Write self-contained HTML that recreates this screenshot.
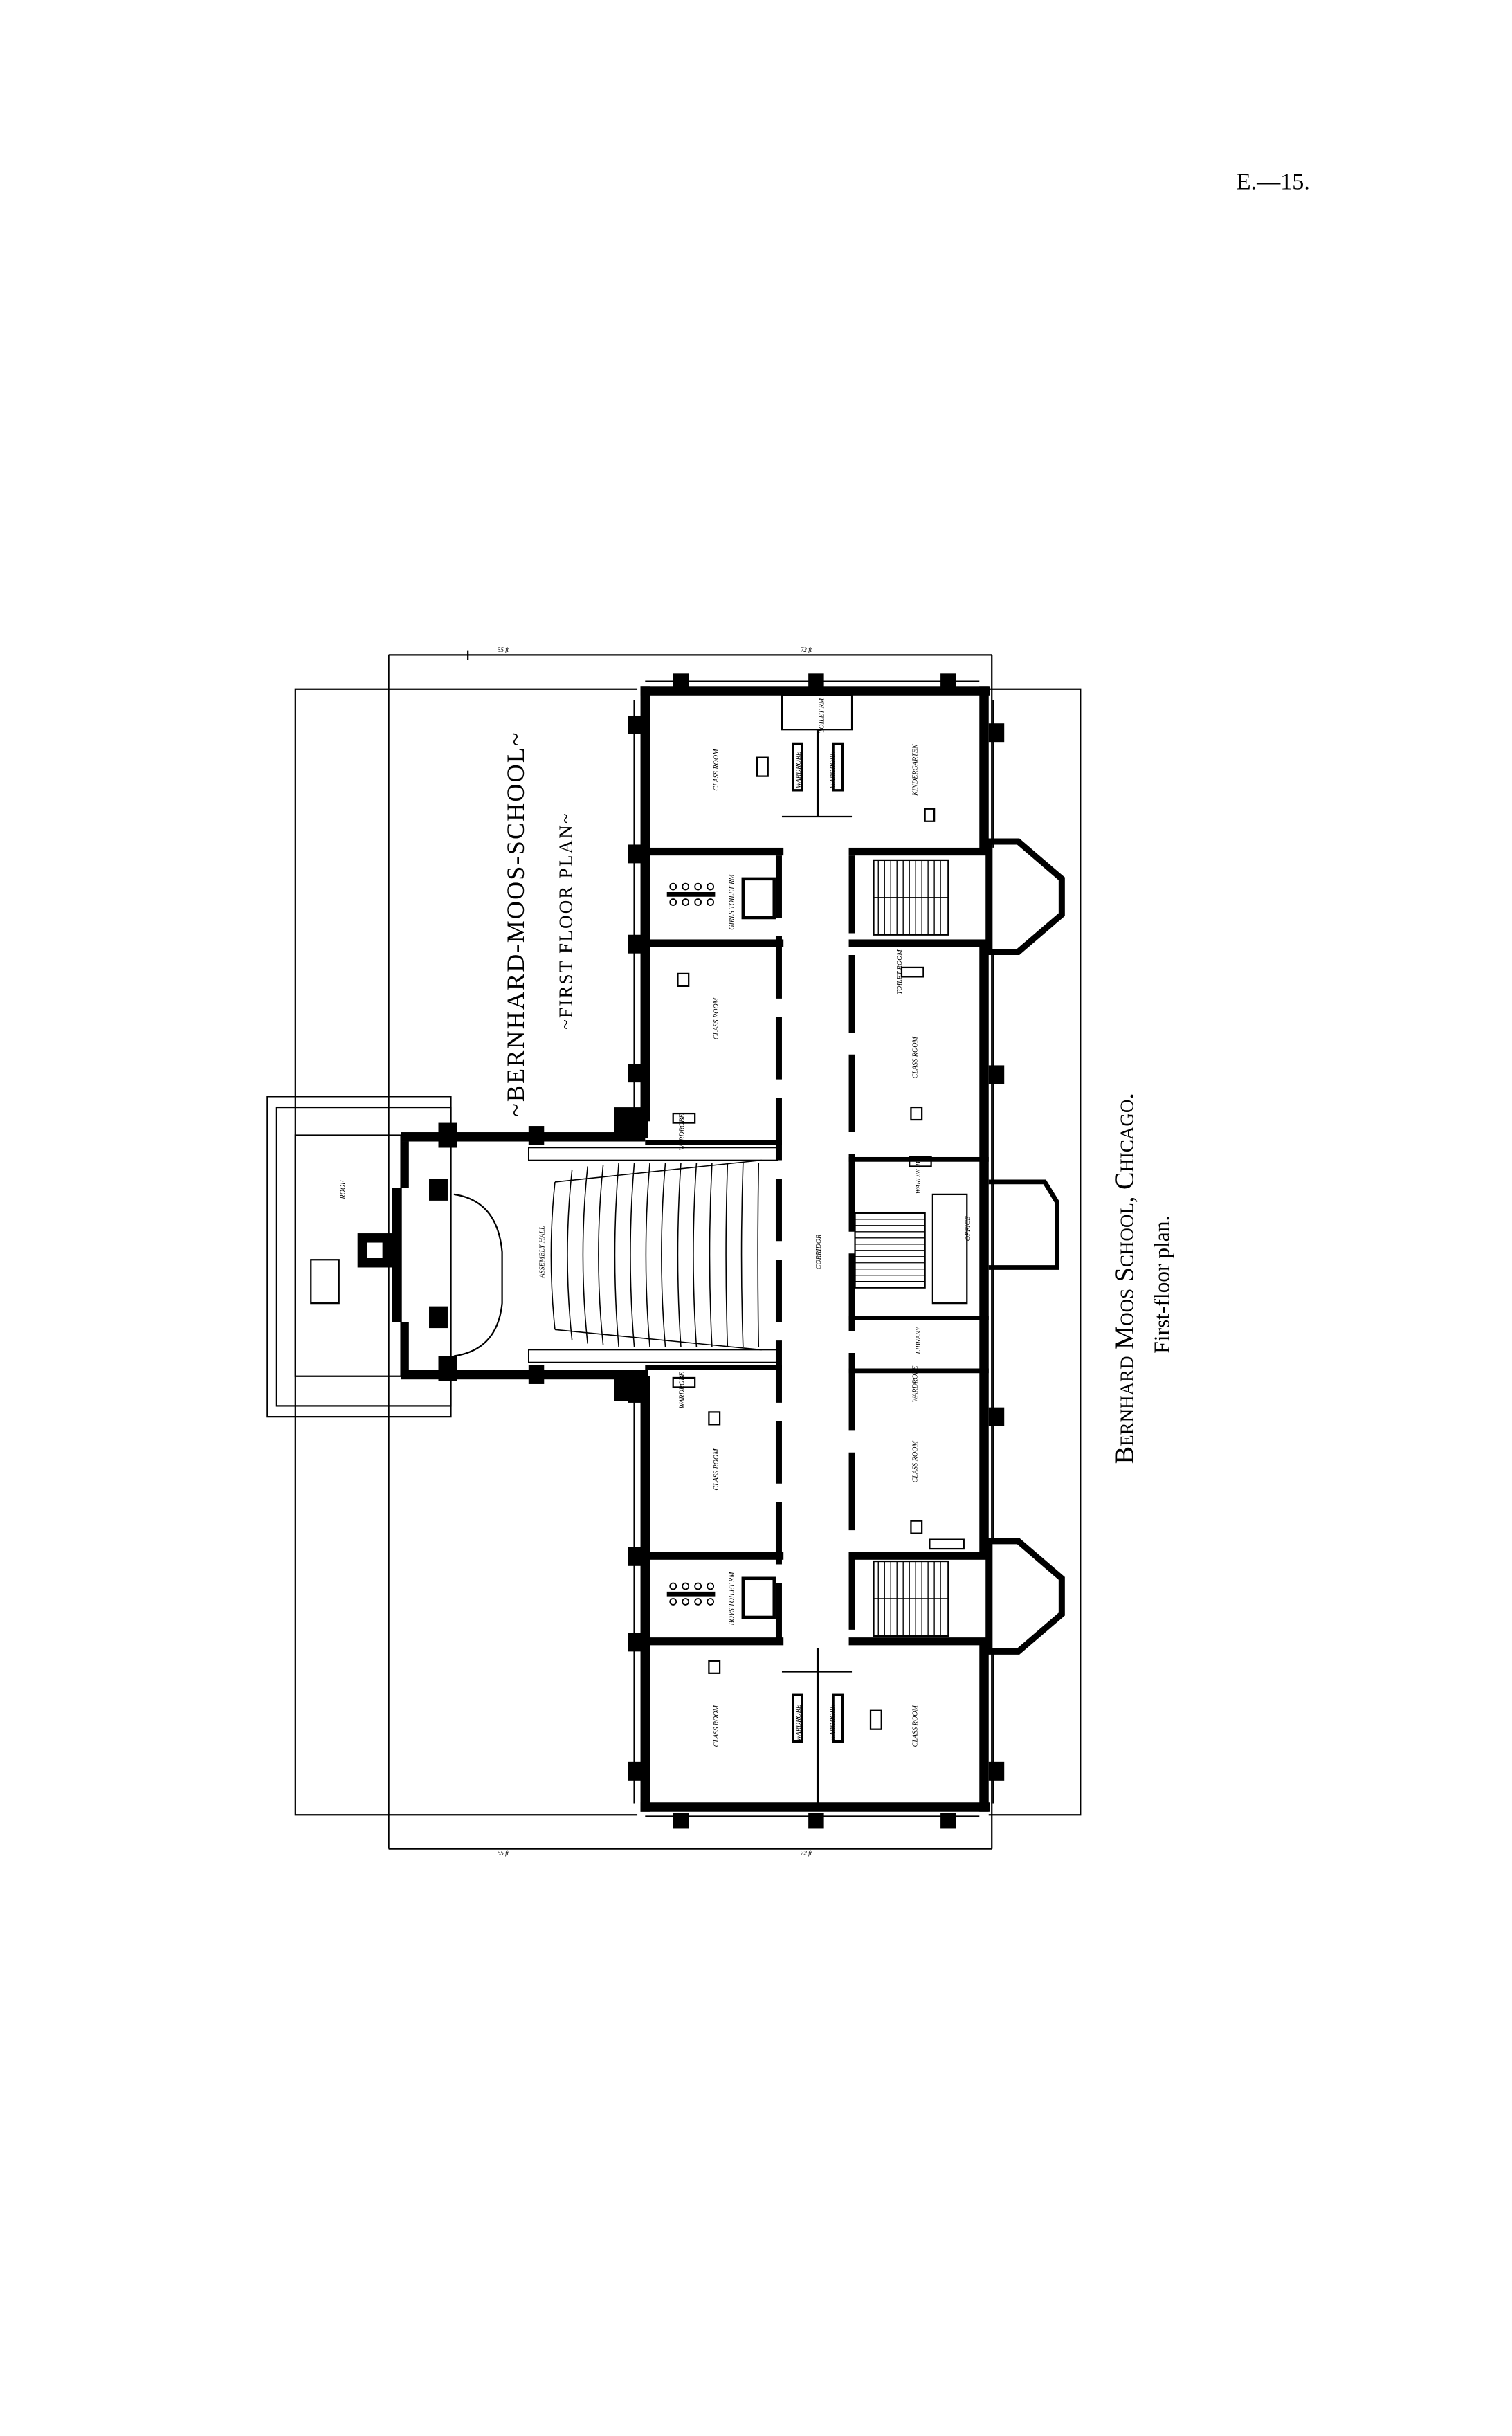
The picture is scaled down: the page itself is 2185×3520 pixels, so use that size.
<!DOCTYPE html>
<html><head><meta charset="utf-8">
<style>
html,body{margin:0;padding:0;background:#fff;}
svg{display:block;}
text{font-family:"Liberation Serif",serif;fill:#000;}
.s{font-family:"Liberation Sans",sans-serif;font-style:italic;}
</style></head>
<body>
<svg width="2185" height="3520" viewBox="0 0 960 1546" xmlns="http://www.w3.org/2000/svg">
<rect width="960" height="1546" fill="#fff"/>
<text x="785" y="120" font-size="15">E.—15.</text>
<g transform="scale(0.987)">
<g fill="none" stroke="#000" stroke-width="1">
 <line x1="250" y1="421" x2="638" y2="421"/>
 <line x1="250" y1="1189" x2="638" y2="1189"/>
 <line x1="250" y1="421" x2="250" y2="1189"/>
 <line x1="638" y1="421" x2="638" y2="1189"/>
 <line x1="301" y1="418" x2="301" y2="424"/>
 <polyline points="410,443 190,443 190,1167 410,1167"/>
 <polyline points="636,443 695,443 695,1167 636,1167"/>
 <rect x="172" y="705" width="118" height="206"/>
 <rect x="178" y="712" width="112" height="192"/>
 <rect x="190" y="730" width="68" height="155"/>
 <rect x="200" y="810" width="18" height="28"/>
 <path d="M292 768 Q320 772 323 805 L323 838 Q320 868 292 872"/>
 <line x1="290" y1="731" x2="410" y2="731"/>
 <line x1="290" y1="884" x2="410" y2="884"/>
 <line x1="408" y1="450" x2="408" y2="720"/>
 <line x1="408" y1="890" x2="408" y2="1160"/>
 <line x1="639" y1="450" x2="639" y2="545"/>
 <line x1="639" y1="612" x2="639" y2="990"/>
 <line x1="639" y1="1062" x2="639" y2="1160"/>
 <line x1="415" y1="438" x2="630" y2="438"/>
 <line x1="415" y1="1168" x2="630" y2="1168"/>
</g>
<g font-size="4" class="s">
 <text x="320" y="419">55 ft</text><text x="515" y="419">72 ft</text>
 <text x="320" y="1193">55 ft</text><text x="515" y="1193">72 ft</text>
</g>
<g fill="#000">
 <rect x="230" y="793" width="22" height="22"/>
 <rect x="236" y="799" width="10" height="10" fill="#fff"/>
 <rect x="412" y="441" width="225" height="6"/>
 <rect x="412" y="1159" width="225" height="6"/>
 <rect x="412" y="441" width="6" height="280"/>
 <rect x="412" y="885" width="6" height="280"/>
 <rect x="630" y="441" width="6" height="106"/>
 <rect x="630" y="605" width="6" height="395"/>
 <rect x="630" y="1055" width="6" height="110"/>
 <rect x="433" y="433" width="10" height="10"/><rect x="520" y="433" width="10" height="10"/><rect x="605" y="433" width="10" height="10"/>
 <rect x="433" y="1166" width="10" height="10"/><rect x="520" y="1166" width="10" height="10"/><rect x="605" y="1166" width="10" height="10"/>
 <rect x="404" y="460" width="10" height="12"/><rect x="404" y="543" width="10" height="12"/><rect x="404" y="601" width="10" height="12"/><rect x="404" y="684" width="10" height="12"/>
 <rect x="404" y="890" width="10" height="12"/><rect x="404" y="995" width="10" height="12"/><rect x="404" y="1050" width="10" height="12"/><rect x="404" y="1133" width="10" height="12"/>
 <rect x="636" y="465" width="10" height="12"/><rect x="636" y="685" width="10" height="12"/><rect x="636" y="905" width="10" height="12"/><rect x="636" y="1133" width="10" height="12"/>
 <rect x="258" y="728" width="157" height="6"/>
 <rect x="258" y="881" width="157" height="6"/>
 <rect x="395" y="712" width="22" height="20"/>
 <rect x="395" y="881" width="22" height="20"/>
 <rect x="340" y="724" width="10" height="12"/><rect x="340" y="878" width="10" height="12"/>
 <rect x="282" y="722" width="12" height="16"/><rect x="282" y="872" width="12" height="16"/>
 <rect x="276" y="758" width="12" height="14"/><rect x="276" y="840" width="12" height="14"/>
 <rect x="258" y="734" width="5" height="30"/><rect x="258" y="850" width="5" height="31"/>
 <rect x="252" y="764" width="6" height="86"/>
 <rect x="415" y="733" width="88" height="3"/>
 <rect x="415" y="878" width="88" height="3"/>
 <rect x="412" y="545" width="92" height="5"/>
 <rect x="412" y="604" width="92" height="5"/>
 <rect x="412" y="998" width="92" height="5"/>
 <rect x="412" y="1053" width="92" height="5"/>
 <rect x="546" y="545" width="90" height="5"/>
 <rect x="546" y="604" width="90" height="5"/>
 <rect x="546" y="998" width="90" height="5"/>
 <rect x="546" y="1053" width="90" height="5"/>
 <rect x="546" y="744" width="90" height="3"/>
 <rect x="546" y="880" width="90" height="3"/>
 <rect x="546" y="846" width="90" height="3"/>
</g>
<g fill="none" stroke="#000">
 <line x1="501" y1="550" x2="501" y2="1056" stroke-width="4" stroke-dasharray="40 12"/>
 <line x1="548" y1="550" x2="548" y2="1056" stroke-width="4" stroke-dasharray="50 14"/>
 <rect x="503" y="447" width="45" height="22" stroke-width="1"/>
 <line x1="526" y1="469" x2="526" y2="525" stroke-width="1.5"/>
 <line x1="503" y1="525" x2="548" y2="525" stroke-width="1"/>
 <rect x="510" y="478" width="6" height="30" stroke-width="1.5"/>
 <rect x="536" y="478" width="6" height="30" stroke-width="1.5"/>
 <line x1="526" y1="1060" x2="526" y2="1160" stroke-width="1.5"/>
 <line x1="503" y1="1075" x2="548" y2="1075" stroke-width="1"/>
 <rect x="510" y="1090" width="6" height="30" stroke-width="1.5"/>
 <rect x="536" y="1090" width="6" height="30" stroke-width="1.5"/>
 <rect x="478" y="565" width="20" height="25" stroke-width="2"/>
 <rect x="478" y="1015" width="20" height="25" stroke-width="2"/>
 <line x1="429" y1="575" x2="460" y2="575" stroke-width="3"/>
 <line x1="429" y1="1025" x2="460" y2="1025" stroke-width="3"/>
 <g stroke-width="0.8">
  <circle cx="433" cy="570" r="2"/><circle cx="441" cy="570" r="2"/><circle cx="449" cy="570" r="2"/><circle cx="457" cy="570" r="2"/>
  <circle cx="433" cy="580" r="2"/><circle cx="441" cy="580" r="2"/><circle cx="449" cy="580" r="2"/><circle cx="457" cy="580" r="2"/>
  <circle cx="433" cy="1020" r="2"/><circle cx="441" cy="1020" r="2"/><circle cx="449" cy="1020" r="2"/><circle cx="457" cy="1020" r="2"/>
  <circle cx="433" cy="1030" r="2"/><circle cx="441" cy="1030" r="2"/><circle cx="449" cy="1030" r="2"/><circle cx="457" cy="1030" r="2"/>
 </g>
 <rect x="487" y="487" width="7" height="12" stroke-width="1"/>
 <rect x="595" y="520" width="6" height="8" stroke-width="1"/>
 <rect x="436" y="626" width="7" height="8" stroke-width="1"/>
 <rect x="586" y="712" width="7" height="8" stroke-width="1"/>
 <rect x="456" y="908" width="7" height="8" stroke-width="1"/>
 <rect x="586" y="978" width="7" height="8" stroke-width="1"/>
 <rect x="456" y="1068" width="7" height="8" stroke-width="1"/>
 <rect x="560" y="1100" width="7" height="12" stroke-width="1"/>
 <rect x="433" y="716" width="14" height="6" stroke-width="1"/>
 <rect x="433" y="886" width="14" height="6" stroke-width="1"/>
 <rect x="580" y="622" width="14" height="6" stroke-width="1"/>
 <rect x="585" y="744" width="14" height="6" stroke-width="1"/>
 <rect x="598" y="990" width="22" height="6" stroke-width="1"/>
 <polygon points="636,541 655,541 683,565 683,588 655,612 636,612" stroke-width="4"/>
 <polygon points="636,991 655,991 683,1015 683,1038 655,1062 636,1062" stroke-width="4"/>
 <polyline points="636,760 672,760 680,773 680,815 636,815" stroke-width="3"/>
 <rect x="562" y="553" width="48" height="48" stroke-width="1"/>
 <rect x="562" y="1004" width="48" height="48" stroke-width="1"/>
 <rect x="550" y="780" width="45" height="48" stroke-width="1"/>
 <rect x="600" y="768" width="22" height="70" stroke-width="1"/>
</g>
<g stroke="#000" stroke-width="0.6">
 <path d="M565 553v48M569 553v48M573 553v48M577 553v48M581 553v48M585 553v48M589 553v48M593 553v48M597 553v48M601 553v48M605 553v48M562 577h48"/>
 <path d="M565 1004v48M569 1004v48M573 1004v48M577 1004v48M581 1004v48M585 1004v48M589 1004v48M593 1004v48M597 1004v48M601 1004v48M605 1004v48M562 1028h48"/>
 <path d="M550 784h45M550 788h45M550 792h45M550 796h45M550 800h45M550 804h45M550 808h45M550 812h45M550 816h45M550 820h45M550 824h45"/>
</g>
<g fill="none" stroke="#000" stroke-width="0.7">
 <path d="M357 760 Q352 807 357 855"/>
 <path d="M368 752 Q362 807 368 862"/>
 <path d="M378 750 Q372 807 378 864"/>
 <path d="M388 749 Q382 807 388 865"/>
 <path d="M398 748 Q393 807 398 866"/>
 <path d="M408 748 Q403 807 408 866"/>
 <path d="M418 748 Q413 807 418 866"/>
 <path d="M428 748 Q423 807 428 866"/>
 <path d="M438 748 Q434 807 438 866"/>
 <path d="M448 748 Q444 807 448 866"/>
 <path d="M458 748 Q455 807 458 866"/>
 <path d="M468 748 Q466 807 468 866"/>
 <path d="M478 748 Q476 807 478 866"/>
 <path d="M488 748 Q487 807 488 866"/>
 <line x1="357" y1="760" x2="490" y2="746"/>
 <line x1="357" y1="855" x2="490" y2="868"/>
 <rect x="340" y="738" width="160" height="8"/>
 <rect x="340" y="868" width="160" height="8"/>
</g>
<text transform="translate(337,594) rotate(-90)" font-size="16" text-anchor="middle" font-family="Liberation Sans,sans-serif" letter-spacing="1">~BERNHARD-MOOS-SCHOOL~</text>
<text transform="translate(368,592) rotate(-90)" font-size="12" text-anchor="middle" font-family="Liberation Sans,sans-serif" letter-spacing="1">~FIRST FLOOR PLAN~</text>
<text transform="translate(729,822) rotate(-90)" font-size="17" text-anchor="middle" style="font-variant:small-caps">Bernhard Moos School, Chicago.</text>
<text transform="translate(752,826) rotate(-90)" font-size="14" text-anchor="middle">First-floor plan.</text>
<g font-size="4.5" class="s" text-anchor="middle">
 <text transform="translate(462,495) rotate(-90)">CLASS ROOM</text>
 <text transform="translate(590,495) rotate(-90)">KINDERGARTEN</text>
 <text transform="translate(472,580) rotate(-90)">GIRLS TOILET RM</text>
 <text transform="translate(462,655) rotate(-90)">CLASS ROOM</text>
 <text transform="translate(590,680) rotate(-90)">CLASS ROOM</text>
 <text transform="translate(580,625) rotate(-90)">TOILET ROOM</text>
 <text transform="translate(440,728) rotate(-90)">WARDROBE</text>
 <text transform="translate(350,805) rotate(-90)">ASSEMBLY HALL</text>
 <text transform="translate(528,805) rotate(-90)">CORRIDOR</text>
 <text transform="translate(624,790) rotate(-90)">OFFICE</text>
 <text transform="translate(592,862) rotate(-90)">LIBRARY</text>
 <text transform="translate(592,756) rotate(-90)">WARDROBE</text>
 <text transform="translate(222,765) rotate(-90)">ROOF</text>
 <text transform="translate(440,894) rotate(-90)">WARDROBE</text>
 <text transform="translate(590,890) rotate(-90)">WARDROBE</text>
 <text transform="translate(462,945) rotate(-90)">CLASS ROOM</text>
 <text transform="translate(590,940) rotate(-90)">CLASS ROOM</text>
 <text transform="translate(472,1028) rotate(-90)">BOYS TOILET RM</text>
 <text transform="translate(462,1110) rotate(-90)">CLASS ROOM</text>
 <text transform="translate(590,1110) rotate(-90)">CLASS ROOM</text>
 <text transform="translate(515,1108) rotate(-90)">WARDROBE</text>
 <text transform="translate(537,1108) rotate(-90)">WARDROBE</text>
 <text transform="translate(515,495) rotate(-90)">WARDROBE</text>
 <text transform="translate(537,495) rotate(-90)">WARDROBE</text>
 <text transform="translate(530,460) rotate(-90)">TOILET RM</text>
</g>
</g>
</svg>
</body></html>
